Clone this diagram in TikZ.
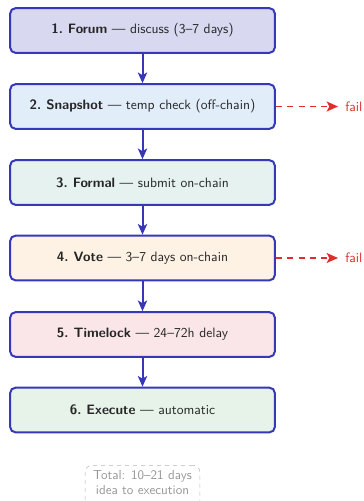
\documentclass[tikz,border=0pt]{standalone}
\usetikzlibrary{arrows.meta}
\renewcommand{\familydefault}{\sfdefault}
\definecolor{flowblue}{RGB}{55,55,185}
\definecolor{failred}{RGB}{222,45,45}
\definecolor{fillA}{RGB}{216,216,241}
\definecolor{fillB}{RGB}{226,237,250}
\definecolor{fillC}{RGB}{229,242,240}
\definecolor{fillD}{RGB}{253,242,228}
\definecolor{fillE}{RGB}{250,230,232}
\definecolor{fillF}{RGB}{231,243,232}
\definecolor{notegray}{RGB}{150,150,150}
\tikzset{
  stage/.style={draw=flowblue, line width=1.5pt, rounded corners=4pt,
    minimum width=198.5pt, minimum height=33.5pt, inner sep=0pt,
    font=\fontsize{10.2}{12}\selectfont, text=black!85},
  flow/.style={-{Stealth[length=8pt,width=7pt,inset=2pt]}, draw=flowblue, line width=1.5pt},
  failarrow/.style={-{Stealth[length=8.5pt,width=7.5pt,inset=2pt]}, draw=failred, line width=1.3pt, dash pattern=on 4.5pt off 4pt},
  failtext/.style={text=failred, font=\fontsize{10.2}{12}\selectfont, anchor=west, inner sep=0pt},
  note/.style={draw=notegray!70, dashed, rounded corners=5pt, text=notegray,
    font=\fontsize{9.8}{11.2}\selectfont, align=center, inner xsep=6pt, inner ysep=4pt}
}
\begin{document}
\begin{tikzpicture}[x=0.75pt, y=-0.75pt]
  \useasboundingbox (0,0) rectangle (364,501);
  \node[stage, fill=fillA] (s1) at (142.5,30.5) {\textbf{1.\ Forum} --- discuss (3--7 days)};
  \node[stage, fill=fillB] (s2) at (142.5,106.5) {\textbf{2.\ Snapshot} --- temp check (off-chain)};
  \node[stage, fill=fillC] (s3) at (142.5,182.5) {\textbf{3.\ Formal} --- submit on-chain};
  \node[stage, fill=fillD] (s4) at (142.5,258) {\textbf{4.\ Vote} --- 3--7 days on-chain};
  \node[stage, fill=fillE] (s5) at (142.5,334.5) {\textbf{5.\ Timelock} --- 24--72h delay};
  \node[stage, fill=fillF] (s6) at (142.5,410) {\textbf{6.\ Execute} --- automatic};

  \draw[flow] (s1) -- (s2);
  \draw[flow] (s2) -- (s3);
  \draw[flow] (s3) -- (s4);
  \draw[flow] (s4) -- (s5);
  \draw[flow] (s5) -- (s6);

  \node[failtext] (f2) at (345,106.5) {fail};
  \node[failtext] (f4) at (345,258) {fail};
  \coordinate (e2) at (338,106.5);
  \coordinate (e4) at (338,258);
  \draw[failarrow] (s2.east) -- (e2);
  \draw[failarrow] (s4.east) -- (e4);

  \node[note, anchor=north] (total) at (142.5,465) {Total: 10--21 days\\idea to execution\\[2pt]\phantom{x}};
\end{tikzpicture}
\end{document}
